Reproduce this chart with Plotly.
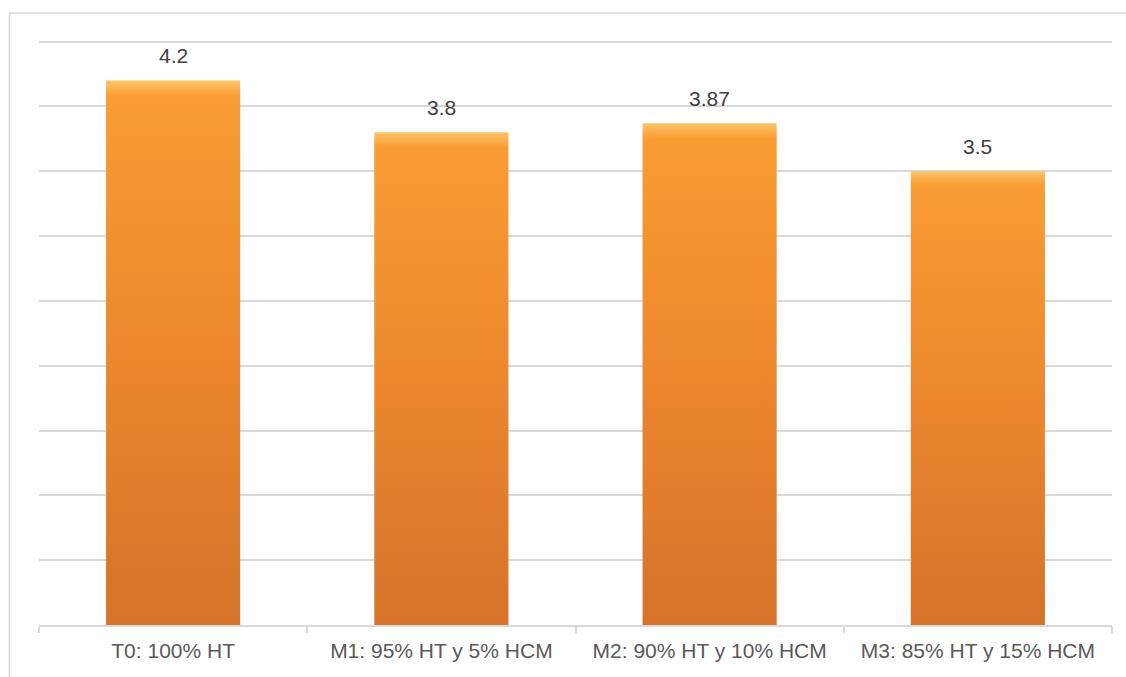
import plotly.graph_objects as go

categories = ["T0: 100% HT", "M1: 95% HT y 5% HCM", "M2: 90% HT y 10% HCM", "M3: 85% HT y 15% HCM"]
values = [4.2, 3.8, 3.87, 3.5]
value_labels = ["4.2", "3.8", "3.87", "3.5"]

W, H = 1126, 677
ML, MR, MT, MB = 39, 14, 39, 52
pw, ph = W - ML - MR, H - MT - MB
half = 0.25
FONT = "Liberation Sans"

fig = go.Figure()
for i, v in enumerate(values):
    fig.add_trace(go.Scatter(
        x=[i - half, i - half, i + half, i + half, i - half],
        y=[0, v, v, 0, 0],
        mode="lines", fill="toself",
        line=dict(width=0, color="rgba(0,0,0,0)"),
        fillgradient=dict(type="vertical", start=0, stop=v,
                          colorscale=[[0, "#D6722A"], [0.5, "#EC872E"], [0.97, "#FA9C33"], [1, "#FCC56A"]]),
        showlegend=False, hoverinfo="skip",
    ))
    fig.add_annotation(x=i, y=v, text=value_labels[i], showarrow=False,
                       yanchor="bottom", yshift=11,
                       font=dict(family=FONT, size=21, color="#404040"))

# outer chart border
fig.add_shape(type="rect", xref="paper", yref="paper",
              x0=(9.5 - ML) / pw, x1=(W + 5 - ML) / pw,
              y0=-(H + 5 - MT - ph) / ph, y1=(MT + ph - 13) / ph,
              line=dict(color="#D9D9D9", width=1.5), fillcolor="rgba(0,0,0,0)", layer="below")

fig.update_layout(
    width=W, height=H,
    margin=dict(l=ML, r=MR, t=MT, b=MB),
    paper_bgcolor="white", plot_bgcolor="white",
    xaxis=dict(range=[-0.5, 3.5], tickmode="array", tickvals=list(range(len(categories))),
               ticktext=categories, ticks="", showgrid=False, zeroline=False,
               showline=True, linecolor="#D9D9D9", linewidth=1.5,
               ticklabelstandoff=6,
               tickfont=dict(family=FONT, size=21, color="#595959"),
               minor=dict(ticks="outside", tick0=-0.5, dtick=1, ticklen=6, tickcolor="#D9D9D9", tickwidth=1.5, showgrid=False),
               fixedrange=True),
    yaxis=dict(range=[0, 4.52], tickmode="array", tickvals=[0.5 * k for k in range(1, 10)],
               showticklabels=False, ticks="",
               showgrid=True, gridcolor="#D9D9D9", gridwidth=1.5, zeroline=False, fixedrange=True),
)

fig.write_html("out.html")
